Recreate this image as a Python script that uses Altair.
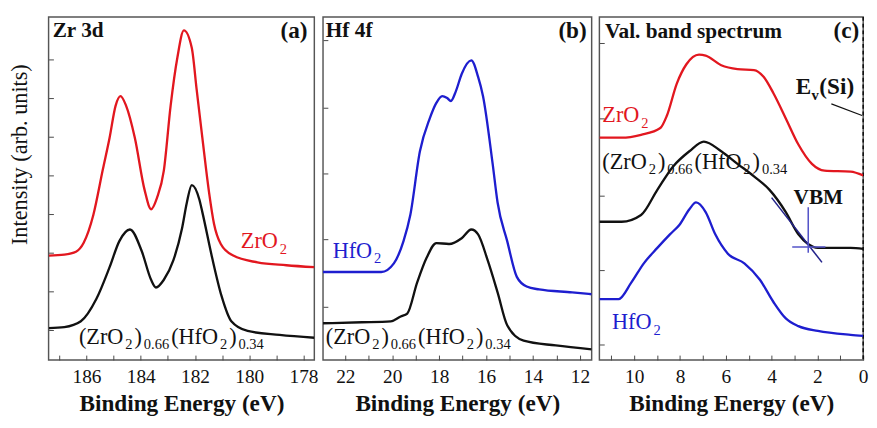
import altair as alt
import pandas as pd

FONT = "Liberation Serif, Times New Roman, Times, DejaVu Serif, serif"
RED = "#e2171f"
BLUE = "#1e1ecf"
BLACK = "#111111"
FRAME = "#555555"
H = 355
WA, WB, WC = 275, 278, 273
YDOM = [0, H]

# ---------------- data (binding energy eV, intensity arb. units) ----------------
# Panel (a) Zr 3d
a_zro2_ev = [187.39, 186.82, 186.39, 186.11, 185.75, 185.40, 185.15, 184.93, 184.75, 184.54,
             184.22, 183.86, 183.62, 183.40, 183.15, 182.90, 182.65, 182.41, 182.12, 181.94,
             181.73, 181.48, 181.30, 181.05, 180.59, 179.70, 178.63, 177.60]
a_zro2_int = [108, 109, 112, 121, 150, 197, 230, 263, 273, 263,
              230, 176, 156, 168, 196, 263, 313, 341, 323, 280,
              230, 173, 141, 120, 108, 101, 98, 96]
a_mix_ev = [187.39, 186.82, 186.21, 185.64, 185.15, 184.79, 184.40, 183.97, 183.62, 183.44,
            183.15, 182.80, 182.48, 182.30, 182.12, 181.84, 181.73, 181.37, 181.02, 180.66,
            180.06, 178.88, 177.60]
a_mix_int = [33, 34, 40, 63, 96, 123, 135, 113, 83, 75,
             83, 103, 136, 163, 181, 166, 153, 106, 66, 40,
             30, 26, 23]

# Panel (b) Hf 4f
b_hfo2_ev = [22.95, 21.71, 20.47, 19.93, 19.52, 19.23, 18.82, 18.40, 18.12, 17.87,
             17.66, 17.50, 17.29, 17.04, 16.63, 16.34, 16.13, 15.72, 15.51, 15.10,
             14.69, 14.27, 13.74, 12.33, 11.50]
b_hfo2_int = [91, 91, 91, 100, 123, 150, 216, 250, 266, 273,
              271, 268, 278, 296, 310, 293, 273, 203, 163, 123,
              86, 76, 73, 70, 68]
b_mix_ev = [22.95, 21.30, 20.06, 19.64, 19.36, 18.94, 18.53, 18.12, 17.58, 17.04,
            16.63, 16.34, 15.93, 15.51, 15.10, 14.40, 13.03, 11.50]
b_mix_int = [38, 39, 40, 45, 48, 80, 106, 121, 120, 126,
             135, 130, 103, 70, 36, 20, 15, 11]

# Panel (c) valence band
c_zro2_ev = [11.52, 10.55, 9.70, 8.86, 8.57, 8.14, 7.72, 7.17, 6.88, 6.20,
             5.49, 4.77, 4.35, 3.92, 3.38, 2.83, 2.24, 1.69, 0.55, 0.00]
c_zro2_int = [230, 230, 233, 240, 253, 286, 306, 316, 315, 305,
              301, 300, 293, 276, 250, 223, 203, 196, 195, 191]
c_mix_ev = [11.52, 10.55, 9.70, 8.99, 8.31, 7.59, 6.96, 6.20, 5.49, 4.77,
            4.09, 3.38, 2.83, 2.41, 1.98, 0.55, 0.00]
c_mix_int = [143, 143, 150, 176, 200, 216, 226, 216, 203, 190,
             176, 153, 130, 120, 116, 116, 115]
c_hfo2_ev = [11.52, 10.68, 10.13, 9.58, 8.99, 8.44, 8.02, 7.59, 7.30, 6.88,
             6.46, 5.91, 5.19, 4.51, 3.92, 3.38, 2.83, 1.98, 0.55, 0.00]
c_hfo2_int = [63, 63, 80, 100, 116, 130, 140, 156, 163, 153,
              130, 110, 100, 83, 60, 43, 35, 30, 26, 25]

# VBM construction and E_v(Si) pointer
vbm_fit_ev = [4.0, 1.8]
vbm_fit_int = [168, 101]
vbm_base_ev = [3.1, 1.65]
vbm_base_int = [117, 117]
vbm_mark_ev = [2.4, 2.4]
vbm_mark_int = [111, 158]
ev_si_ev = [1.39, 0.05]
ev_si_int = [265, 253]

# axes
a_dom = [187.4, 177.6]
b_dom = [22.95, 11.5]
c_dom = [11.52, 0.0]
a_labels = [186, 184, 182, 180, 178]
b_labels = [22, 20, 18, 16, 14, 12]
c_labels = [10, 8, 6, 4, 2, 0]
a_minor = list(range(178, 188))
b_minor = list(range(12, 23))
c_minor = list(range(0, 12))
a_yt = [31, 71, 111, 151, 191, 231, 271, 311]
b_yt = [55, 125, 193, 261, 331]
c_yt = [16, 93, 170, 250, 328]

# Times-like glyph widths (per 1000 em) for placing subscript pieces
GW = {"(": 333, ")": 333, "Z": 611, "r": 333, "O": 722, "H": 722, "f": 333, "2": 500,
      "0": 500, ".": 250, "6": 500, "3": 500, "4": 500, "E": 667, "v": 500, "S": 556,
      "i": 278, " ": 250}


def tw(s, size):
    return sum(GW.get(c, 500) for c in s) / 1000.0 * size


def xenc(dom, axis=None):
    return alt.X("x:Q", scale=alt.Scale(domain=dom, nice=False, zero=False), axis=axis)


def yenc(axis=None):
    return alt.Y("y:Q", scale=alt.Scale(domain=YDOM, nice=False, zero=False), axis=axis)


def line(xs, ys, dom, color, width=2.4, interp="monotone"):
    df = pd.DataFrame({"x": xs, "y": ys, "i": list(range(len(xs)))})
    return alt.Chart(df).mark_line(color=color, strokeWidth=width, clip=True,
                                   interpolate=interp).encode(
        x=xenc(dom), y=yenc(), order="i:Q")


def txt(x, y, s, dom, color=BLACK, size=22, weight="normal", dx=0, dy=0, align="left"):
    df = pd.DataFrame({"x": [x], "y": [y], "t": [s]})
    return alt.Chart(df).mark_text(font=FONT, fontSize=size, fontWeight=weight, color=color,
                                   align=align, baseline="alphabetic", dx=dx, dy=dy).encode(
        x=xenc(dom), y=yenc(), text="t:N")


def sublabel(x, y, parts, dom, color=BLACK, main=23, sub=15, drop=6, gap=2.0, weight="normal"):
    out = []
    off = 0.0
    for s, is_sub in parts:
        size = sub if is_sub else main
        out.append(txt(x, y, s, dom, color=color, size=size, dx=off, dy=drop if is_sub else 0,
                       weight=weight))
        off += tw(s, size) + gap
    return out


MIX = [("(ZrO", False), ("2", True), (")", False), ("0.66", True),
       ("(HfO", False), ("2", True), (")", False), ("0.34", True)]
ZRO2 = [("ZrO", False), ("2", True)]
HFO2 = [("HfO", False), ("2", True)]


def axes_layers(xs, ys, dom, labels, minor, yt, width, ytitle=None):
    df = pd.DataFrame({"x": xs, "y": ys})
    xa = alt.Axis(orient="bottom", values=labels, ticks=False, domain=False, grid=False,
                  labelFontSize=20, labelPadding=7, labelFlush=False,
                  title="Binding Energy (eV)", titleFontSize=24, titleFontWeight="bold",
                  titlePadding=6)
    if ytitle:
        ya = alt.Axis(orient="left", labels=False, ticks=False, domain=False, grid=False,
                      title=ytitle, titleFontSize=23, titleFontWeight="normal",
                      titlePadding=18, titleY=142)
    else:
        ya = None
    vis = alt.Chart(df).mark_point(opacity=0).encode(x=xenc(dom, xa), y=yenc(ya))
    xt = alt.Axis(orient="top", offset=-H, values=minor, labels=False, domain=False, grid=False,
                  ticks=True, tickSize=5, tickColor="#444444", tickWidth=1, title=None)
    ytk = alt.Axis(orient="right", offset=-width, values=yt, labels=False, domain=False,
                   grid=False, ticks=True, tickSize=5, tickColor="#444444", tickWidth=1,
                   title=None)
    inner = alt.Chart(df).mark_point(opacity=0).encode(x=xenc(dom, xt), y=yenc(ytk))
    return [vis, inner]


# ---------------- panel (a) ----------------
la = axes_layers(a_zro2_ev, a_zro2_int, a_dom, a_labels, a_minor, a_yt, WA,
                 ytitle="Intensity (arb. units)")
la += [txt(187.25, 334, "Zr 3d", a_dom, size=22, weight="bold"),
       txt(177.85, 333, "(a)", a_dom, size=24, weight="bold", align="right")]
la += sublabel(180.31, 116, ZRO2, a_dom, color=RED)
la += sublabel(186.28, 17, MIX, a_dom)
la += [line(a_zro2_ev, a_zro2_int, a_dom, RED), line(a_mix_ev, a_mix_int, a_dom, BLACK)]
pa = alt.layer(*la).properties(width=WA, height=H).resolve_axis(x="independent", y="independent")

# ---------------- panel (b) ----------------
lb = axes_layers(b_hfo2_ev, b_hfo2_int, b_dom, b_labels, b_minor, b_yt, WB)
lb += [txt(22.83, 334, "Hf 4f", b_dom, size=22, weight="bold"),
       txt(11.71, 333, "(b)", b_dom, size=24, weight="bold", align="right")]
lb += sublabel(22.54, 106, HFO2, b_dom, color=BLUE)
lb += sublabel(22.83, 17, MIX, b_dom)
lb += [line(b_hfo2_ev, b_hfo2_int, b_dom, BLUE), line(b_mix_ev, b_mix_int, b_dom, BLACK)]
pb = alt.layer(*lb).properties(width=WB, height=H).resolve_axis(x="independent", y="independent")

# ---------------- panel (c) ----------------
lc = axes_layers(c_zro2_ev, c_zro2_int, c_dom, c_labels, c_minor, c_yt, WC)
lc += [txt(11.27, 333, "Val. band spectrum", c_dom, size=22, weight="bold"),
       txt(0.17, 333, "(c)", c_dom, size=24, weight="bold", align="right"),
       txt(3.04, 161, "VBM", c_dom, size=22, weight="bold")]
lc += sublabel(2.95, 275, [("E", False), ("v", True), ("(Si)", False)], c_dom, main=24,
               gap=0.5, weight="bold")
lc += sublabel(11.39, 246, ZRO2, c_dom, color=RED)
lc += sublabel(11.39, 198, MIX, c_dom)
lc += sublabel(10.97, 32, HFO2, c_dom, color=BLUE)
rule_df = pd.DataFrame({"x": [0.0]})
lc += [alt.Chart(rule_df).mark_rule(color=BLACK, strokeWidth=1.6, strokeDash=[4, 3]).encode(
    x=xenc(c_dom))]
lc += [line(c_zro2_ev, c_zro2_int, c_dom, RED), line(c_mix_ev, c_mix_int, c_dom, BLACK),
       line(c_hfo2_ev, c_hfo2_int, c_dom, BLUE),
       line(vbm_fit_ev, vbm_fit_int, c_dom, "#23238a", width=1.6, interp="linear"),
       line(vbm_base_ev, vbm_base_int, c_dom, "#5555c8", width=1.6, interp="linear"),
       line(vbm_mark_ev, vbm_mark_int, c_dom, "#5555c8", width=1.6, interp="linear"),
       line(ev_si_ev, ev_si_int, c_dom, BLACK, width=1.2, interp="linear")]
pc = alt.layer(*lc).properties(width=WC, height=H).resolve_axis(x="independent", y="independent")

chart = alt.hconcat(pa, pb, pc, spacing=0).properties(
    padding=0, background="white"
).configure_view(stroke=FRAME, strokeWidth=1.5).configure_axis(
    labelFont=FONT, titleFont=FONT, labelColor=BLACK, titleColor=BLACK
)

chart.save("out.html", embed_options={"renderer": "svg", "actions": False})
